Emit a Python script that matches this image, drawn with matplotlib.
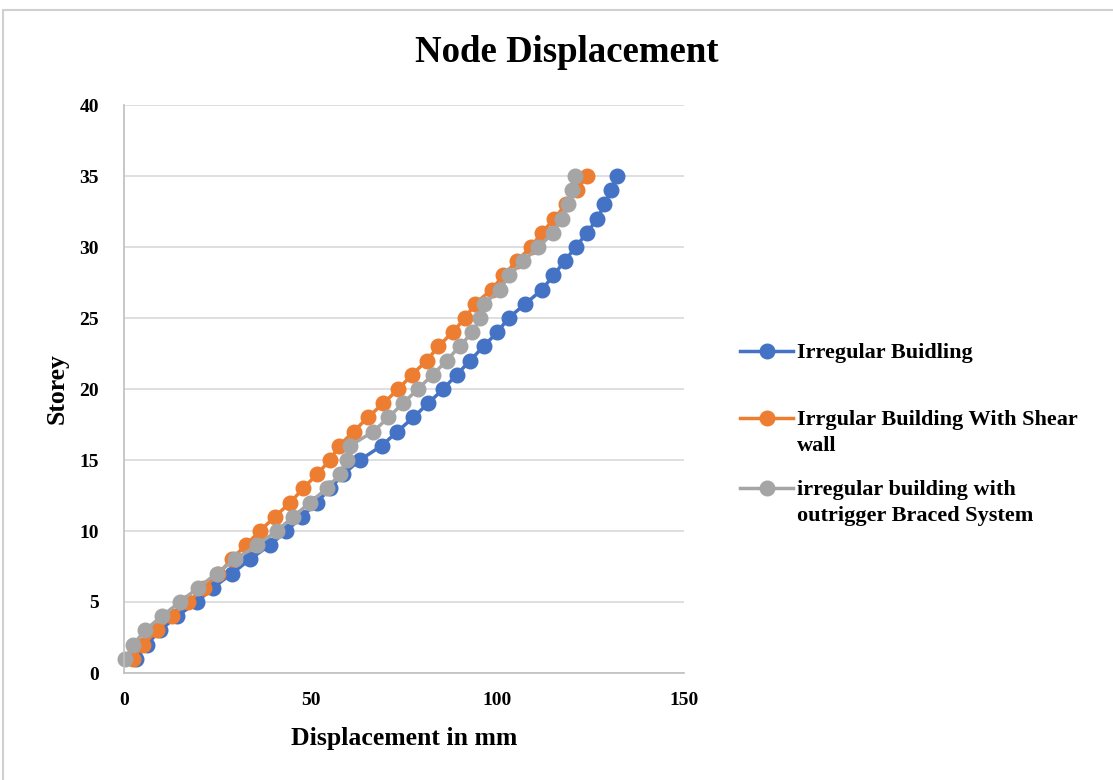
import matplotlib
matplotlib.use("Agg")
import matplotlib.pyplot as plt
from matplotlib.patches import Rectangle
from matplotlib.lines import Line2D

storeys = list(range(1, 36))
irregular = [3.2, 6.1, 9.6, 14.2, 19.5, 23.8, 28.9, 33.7, 39.0, 43.5,
             47.6, 51.6, 55.2, 58.7, 63.2, 69.0, 73.2, 77.5, 81.5, 85.5,
             89.1, 92.7, 96.3, 100.0, 103.0, 107.5, 112.0, 115.0, 118.0, 121.0,
             124.0, 126.8, 128.7, 130.5, 132.0]
shear_wall = [2.4, 5.2, 8.8, 12.9, 17.1, 21.5, 25.3, 28.8, 32.6, 36.4,
              40.4, 44.5, 48.0, 51.7, 55.2, 57.6, 61.5, 65.3, 69.5, 73.5,
              77.1, 81.1, 84.2, 88.0, 91.4, 94.0, 98.5, 101.6, 105.2, 109.0,
              111.9, 115.3, 118.3, 121.3, 124.0]
outrigger = [0.3, 2.5, 5.6, 10.1, 15.0, 19.8, 24.8, 29.7, 35.6, 40.9,
             45.3, 49.8, 54.3, 57.9, 59.7, 60.5, 66.8, 70.8, 74.8, 78.7,
             82.7, 86.4, 89.9, 93.3, 95.4, 96.5, 100.7, 103.2, 106.9, 111.0,
             115.0, 117.3, 119.0, 120.0, 120.8]

labels = ["Irregular Buidling",
          "Irrgular Building With Shear\nwall",
          "irregular building with\noutrigger Braced System"]
colors = ["#4472C4", "#ED7D31", "#A5A5A5"]
x_ticks = [0, 50, 100, 150]
y_ticks = [0, 5, 10, 15, 20, 25, 30, 35, 40]

serif = ["Liberation Serif", "DejaVu Serif"]
plt.rcParams["font.family"] = serif

W, H = 1113, 780
fig = plt.figure(figsize=(W/100, H/100), dpi=100)
ax = fig.add_axes([124/W, 1-673/H, (684-124)/W, (673-105)/H])

# outer chart border
fig.patches.append(Rectangle((3/W, -0.05), 1.1, 1 - 10/H + 0.05,
                             transform=fig.transFigure, fill=False,
                             edgecolor="#D0D0D0", linewidth=1.5, zorder=0))

lines = []
for series, lab, col in zip([irregular, shear_wall, outrigger], labels, colors):
    ln, = ax.plot(series, storeys, color=col, linewidth=2.5, marker="o",
                  markersize=10.5, label=lab, clip_on=False)
    lines.append(ln)

ax.set_xlim(0, 150)
ax.set_ylim(0, 40)
ax.set_xticks(x_ticks)
ax.set_yticks(y_ticks)
ax.tick_params(length=0, labelsize=14)
ax.tick_params(axis="x", pad=14)
ax.tick_params(axis="y", pad=18)
for t in ax.get_xticklabels() + ax.get_yticklabels():
    t.set_fontweight("bold")
ax.grid(axis="y", color="#D9D9D9", linewidth=1.2)
ax.set_axisbelow(True)
for s in ["top", "right"]:
    ax.spines[s].set_visible(False)
for s in ["left", "bottom"]:
    ax.spines[s].set_color("#BFBFBF")
    ax.spines[s].set_linewidth(1.2)

ax.set_xlabel("Displacement in mm", fontsize=18.5, fontweight="bold", labelpad=13)
ax.set_ylabel("Storey", fontsize=18.5, fontweight="bold", labelpad=8)
fig.text(567/W, 1-53/H, "Node Displacement", ha="center", va="center",
         fontsize=26.5, fontweight="bold")

# legend: marker aligned with first text line, as in the reference
entry_y = [351, 418, 488]
for ln, lab, y in zip(lines, labels, entry_y):
    yf = 1 - y/H
    fig.add_artist(Line2D([740/W, 793/W], [yf, yf], transform=fig.transFigure,
                          color=ln.get_color(), linewidth=2.5))
    fig.add_artist(Line2D([767/W], [yf], transform=fig.transFigure,
                          color=ln.get_color(), marker="o", markersize=10.5,
                          linestyle="none"))
    fig.text(797/W, 1-(y-8)/H, lab, ha="left", va="top", fontsize=16,
             fontweight="bold", linespacing=1.4)

fig.savefig("out.png", dpi=100)
